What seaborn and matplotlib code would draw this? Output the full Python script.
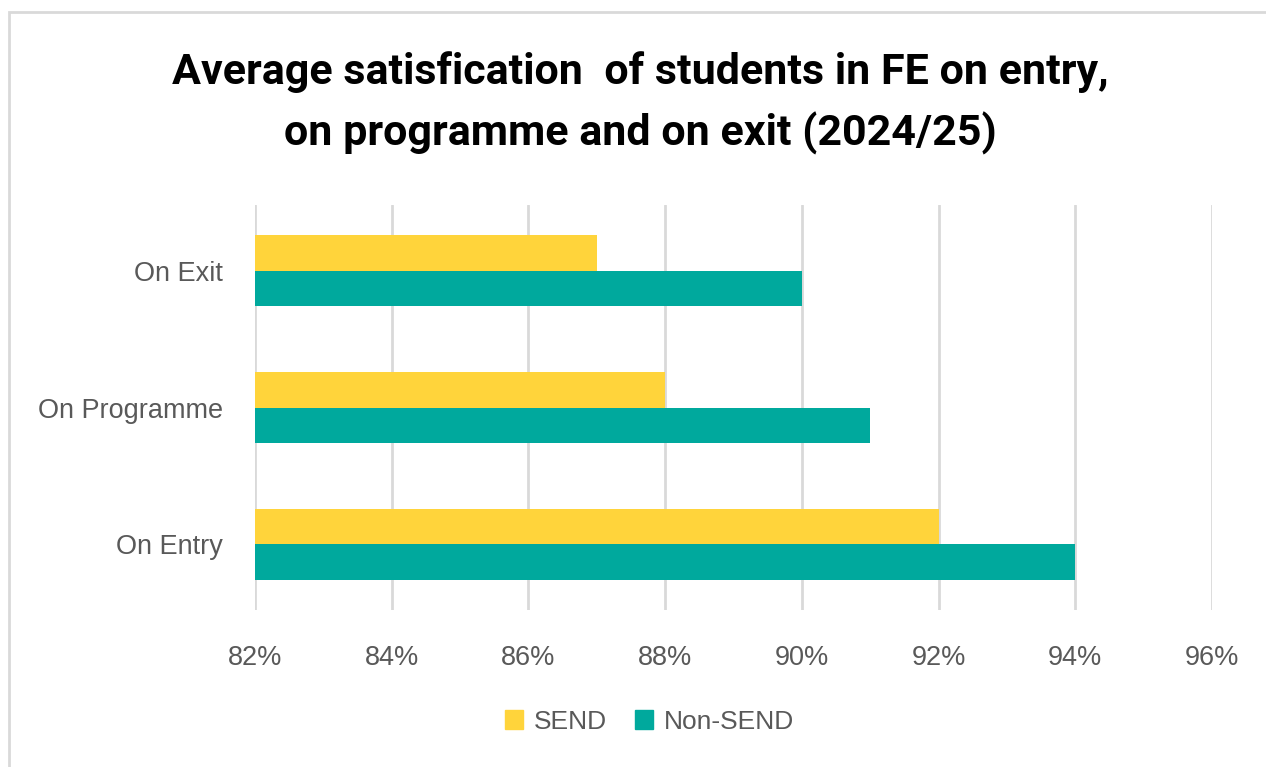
import matplotlib
matplotlib.use("Agg")
import matplotlib.pyplot as plt
import matplotlib.patches as mpatches
import seaborn as sns
import pandas as pd

# Survey stages (top to bottom) and average satisfaction (%)
stages = ["On Exit", "On Programme", "On Entry"]
send_values = [87, 88, 92]
non_send_values = [90, 91, 94]
groups = ["SEND", "Non-SEND"]
x_ticks = [82, 84, 86, 88, 90, 92, 94, 96]

colors = {"SEND": "#FFD43B", "Non-SEND": "#00A99D"}

df = pd.DataFrame({
    "Stage": stages * 2,
    "Group": [groups[0]] * len(stages) + [groups[1]] * len(stages),
    "Value": send_values + non_send_values,
})

sns.set_theme(style="white")
plt.rcParams["font.family"] = ["Liberation Sans", "DejaVu Sans"]

fig = plt.figure(figsize=(12.66, 7.67), dpi=100)
ax = fig.add_axes([0.2014, 0.2047, 0.7559, 0.528])

sns.barplot(data=df, y="Stage", x="Value", hue="Group", order=stages,
            hue_order=groups, palette=colors, orient="h", width=0.52,
            saturation=1, ax=ax, legend=False, linewidth=0, zorder=3)

ax.set_xlim(82, 96)
ax.set_ylim(2.48, -0.48)
ax.set_xticks(x_ticks)
ax.set_xticklabels([f"{v}%" for v in x_ticks])
ax.grid(axis="x", color="#D9D9D9", linewidth=2, zorder=0)
ax.grid(axis="y", visible=False)
ax.set_axisbelow(True)
for s in ax.spines.values():
    s.set_visible(False)
ax.set_xlabel("")
ax.set_ylabel("")
ax.tick_params(axis="x", colors="#595959", labelsize=19.5, pad=25, length=0)
ax.tick_params(axis="y", colors="#595959", labelsize=19.5, pad=23, length=0)

title_font = dict(ha="center", va="center", fontsize=31, fontweight="bold",
                  family=["Roboto", "DejaVu Sans"], color="black")
fig.text(0.506, 0.906, "Average satisfication  of students in FE on entry,", **title_font)
fig.text(0.506, 0.826, "on programme and on exit (2024/25)", **title_font)

handles = [mpatches.Patch(color=colors[g], label=g) for g in groups]
fig.legend(handles=handles, loc="center", bbox_to_anchor=(0.513, 0.059),
           ncol=2, frameon=False, fontsize=19, handlelength=0.7,
           handleheight=0.7, handletextpad=0.4, columnspacing=1.05,
           labelcolor="#595959")

# Chart area border
fig.patches.append(mpatches.Rectangle((9 / 1266, -0.05), 1.1, 1 - 12 / 767 + 0.05,
                                      transform=fig.transFigure, fill=False,
                                      edgecolor="#D9D9D9", linewidth=2))

fig.savefig("out.png", dpi=100, facecolor="white")
